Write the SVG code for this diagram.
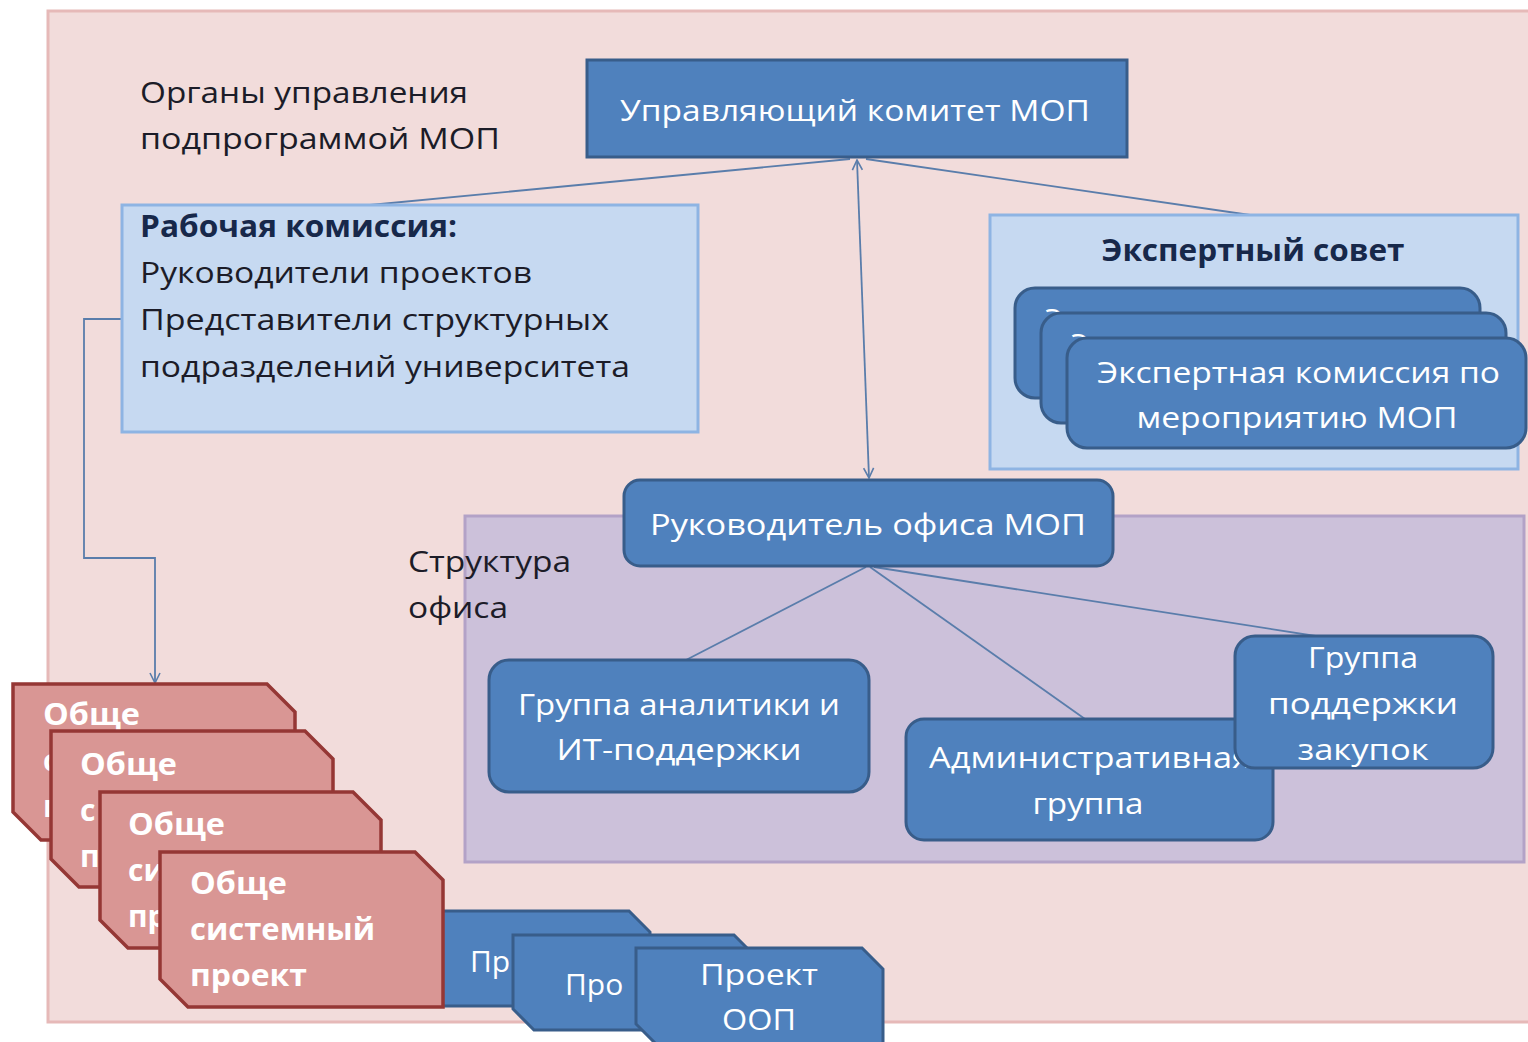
<svg xmlns="http://www.w3.org/2000/svg" width="1528" height="1042" viewBox="0 0 1528 1042">
  <defs>
    <style>
      text { font-family: "Open Sans", "Noto Sans", "Liberation Sans", sans-serif; }
      .lbl { font-size: 30px; fill: #1c1c28; }
      .lbl-b { font-size: 30px; font-weight: bold; fill: #17284a; }
      .w { font-size: 30px; fill: #ffffff; }
      .wb { font-size: 30px; font-weight: bold; fill: #ffffff; }
      .frame { fill: #f2dcdb; stroke: #e6b9b8; stroke-width: 3; }
      .panel { fill: #c6d9f1; stroke: #8eb4e3; stroke-width: 3; }
      .office { fill: #ccc1da; stroke: #b3a2c7; stroke-width: 3; }
      .node { fill: #4f81bd; stroke: #385d8a; stroke-width: 3; }
      .proj { fill: #d99694; stroke: #953735; stroke-width: 3.5; }
      .conn { fill: none; stroke: #5a7dab; stroke-width: 1.8; }
    </style>
    <marker id="open" viewBox="0 0 12 12" refX="11" refY="6" markerWidth="12" markerHeight="12" markerUnits="userSpaceOnUse" orient="auto-start-reverse">
      <path d="M1,1 L11,6 L1,11" fill="none" stroke="#5a7dab" stroke-width="1.6"/>
    </marker>
  </defs>

  <!-- outer frame -->
  <rect class="frame" x="48" y="11" width="1500" height="1011"/>

  <!-- caption: governing bodies -->
  <g id="caption-governance">
    <text class="lbl" x="140" y="103" textLength="328" lengthAdjust="spacingAndGlyphs">Органы управления</text>
    <text class="lbl" x="140" y="149" textLength="360" lengthAdjust="spacingAndGlyphs">подпрограммой МОП</text>
  </g>

  <!-- office structure panel -->
  <g id="office-panel">
    <rect class="office" x="465" y="516" width="1059" height="346"/>
    <text class="lbl" x="408" y="572" textLength="163" lengthAdjust="spacingAndGlyphs">Структура</text>
    <text class="lbl" x="408" y="618" textLength="100" lengthAdjust="spacingAndGlyphs">офиса</text>
  </g>

  <!-- connectors -->
  <g id="connectors">
    <line class="conn" x1="850" y1="159" x2="370" y2="205"/>
    <line class="conn" x1="866" y1="159" x2="1250" y2="215"/>
    <line class="conn" x1="857" y1="160" x2="869" y2="478" marker-start="url(#open)" marker-end="url(#open)"/>
    <polyline class="conn" points="122,319 84,319 84,558 155,558 155,683" marker-end="url(#open)"/>
    <line class="conn" x1="866" y1="567" x2="686" y2="660"/>
    <line class="conn" x1="870" y1="567" x2="1085" y2="719"/>
    <line class="conn" x1="874" y1="567" x2="1322" y2="637"/>
  </g>

  <!-- steering committee -->
  <g id="steering-committee">
    <rect class="node" x="587" y="60" width="540" height="97"/>
    <text class="w" x="855" y="121" text-anchor="middle" textLength="470" lengthAdjust="spacingAndGlyphs">Управляющий комитет МОП</text>
  </g>

  <!-- working commission -->
  <g id="working-commission">
    <rect class="panel" x="122" y="205" width="576" height="227"/>
    <text class="lbl-b" x="140" y="237" textLength="317" lengthAdjust="spacingAndGlyphs">Рабочая комиссия:</text>
    <text class="lbl" x="140" y="283" textLength="392" lengthAdjust="spacingAndGlyphs">Руководители проектов</text>
    <text class="lbl" x="140" y="330" textLength="469" lengthAdjust="spacingAndGlyphs">Представители  структурных</text>
    <text class="lbl" x="140" y="377" textLength="490" lengthAdjust="spacingAndGlyphs">подразделений университета</text>
  </g>

  <!-- expert council with stacked commissions -->
  <g id="expert-council">
    <rect class="panel" x="990" y="215" width="528" height="254"/>
    <text class="lbl-b" x="1253" y="261" text-anchor="middle" textLength="303" lengthAdjust="spacingAndGlyphs">Экспертный совет</text>
  </g>
  <g id="expert-commission-1">
    <rect class="node" x="1015" y="288" width="465" height="110" rx="20"/>
    <text class="w" x="1045" y="330">Э</text>
  </g>
  <g id="expert-commission-2">
    <rect class="node" x="1041" y="313" width="465" height="110" rx="20"/>
    <text class="w" x="1071" y="355">Э</text>
  </g>
  <g id="expert-commission-3">
    <rect class="node" x="1067" y="338" width="459" height="110" rx="20"/>
    <text class="w" x="1097" y="383" textLength="403" lengthAdjust="spacingAndGlyphs">Экспертная комиссия по</text>
    <text class="w" x="1297" y="428" text-anchor="middle" textLength="321" lengthAdjust="spacingAndGlyphs">мероприятию МОП</text>
  </g>

  <!-- office head -->
  <g id="office-head">
    <rect class="node" x="624" y="480" width="489" height="86" rx="16"/>
    <text class="w" x="868" y="535" text-anchor="middle" textLength="436" lengthAdjust="spacingAndGlyphs">Руководитель  офиса МОП</text>
  </g>

  <!-- office groups -->
  <g id="analytics-group">
    <rect class="node" x="489" y="660" width="380" height="132" rx="20"/>
    <text class="w" x="679" y="715" text-anchor="middle" textLength="322" lengthAdjust="spacingAndGlyphs">Группа аналитики и</text>
    <text class="w" x="679" y="760" text-anchor="middle" textLength="245" lengthAdjust="spacingAndGlyphs">ИТ-поддержки</text>
  </g>
  <g id="admin-group">
    <rect class="node" x="906" y="719" width="367" height="121" rx="18"/>
    <text class="w" x="929" y="768" textLength="322" lengthAdjust="spacingAndGlyphs">Административная</text>
    <text class="w" x="1088" y="814" text-anchor="middle" textLength="111" lengthAdjust="spacingAndGlyphs">группа</text>
  </g>
  <g id="procurement-group">
    <rect class="node" x="1235" y="636" width="258" height="132" rx="20"/>
    <text class="w" x="1363" y="668" text-anchor="middle" textLength="110" lengthAdjust="spacingAndGlyphs">Группа</text>
    <text class="w" x="1363" y="714" text-anchor="middle" textLength="190" lengthAdjust="spacingAndGlyphs">поддержки</text>
    <text class="w" x="1363" y="760" text-anchor="middle" textLength="131" lengthAdjust="spacingAndGlyphs">закупок</text>
  </g>

  <!-- OOP projects (blue stack) -->
  <g id="oop-project-1">
    <polygon class="node" points="405,911 629,911 650,932 650,1006 426,1006 405,985"/>
    <text class="w" x="470" y="972">Пр</text>
  </g>
  <g id="oop-project-2">
    <polygon class="node" points="513,935 734,935 755,956 755,1030 534,1030 513,1009"/>
    <text class="w" x="565" y="995">Про</text>
  </g>
  <g id="oop-project-3">
    <polygon class="node" points="636,948 862,948 883,969 883,1045 657,1045 636,1024"/>
    <text class="w" x="759" y="985" text-anchor="middle" textLength="118" lengthAdjust="spacingAndGlyphs">Проект</text>
    <text class="w" x="759" y="1030" text-anchor="middle" textLength="74" lengthAdjust="spacingAndGlyphs">ООП</text>
  </g>

  <!-- system-wide projects (red stack) -->
  <g id="system-project-1">
    <polygon class="proj" points="13,684 267,684 295,712 295,840 41,840 13,812"/>
    <text class="wb" x="43" y="725" textLength="97" lengthAdjust="spacingAndGlyphs">Обще</text>
    <text class="wb" x="43" y="771">с</text>
    <text class="wb" x="43" y="817">п</text>
  </g>
  <g id="system-project-2">
    <polygon class="proj" points="51,731 305,731 333,759 333,887 79,887 51,859"/>
    <text class="wb" x="80" y="775" textLength="97" lengthAdjust="spacingAndGlyphs">Обще</text>
    <text class="wb" x="80" y="821">с</text>
    <text class="wb" x="80" y="867">п</text>
  </g>
  <g id="system-project-3">
    <polygon class="proj" points="100,792 353,792 381,820 381,948 128,948 100,920"/>
    <text class="wb" x="128" y="835" textLength="97" lengthAdjust="spacingAndGlyphs">Обще</text>
    <text class="wb" x="128" y="881">си</text>
    <text class="wb" x="128" y="927">пр</text>
  </g>
  <g id="system-project-4">
    <polygon class="proj" points="160,852 415,852 443,880 443,1007 188,1007 160,979"/>
    <text class="wb" x="190" y="894" textLength="97" lengthAdjust="spacingAndGlyphs">Обще</text>
    <text class="wb" x="190" y="940" textLength="185" lengthAdjust="spacingAndGlyphs">системный</text>
    <text class="wb" x="190" y="986" textLength="117" lengthAdjust="spacingAndGlyphs">проект</text>
  </g>
</svg>
